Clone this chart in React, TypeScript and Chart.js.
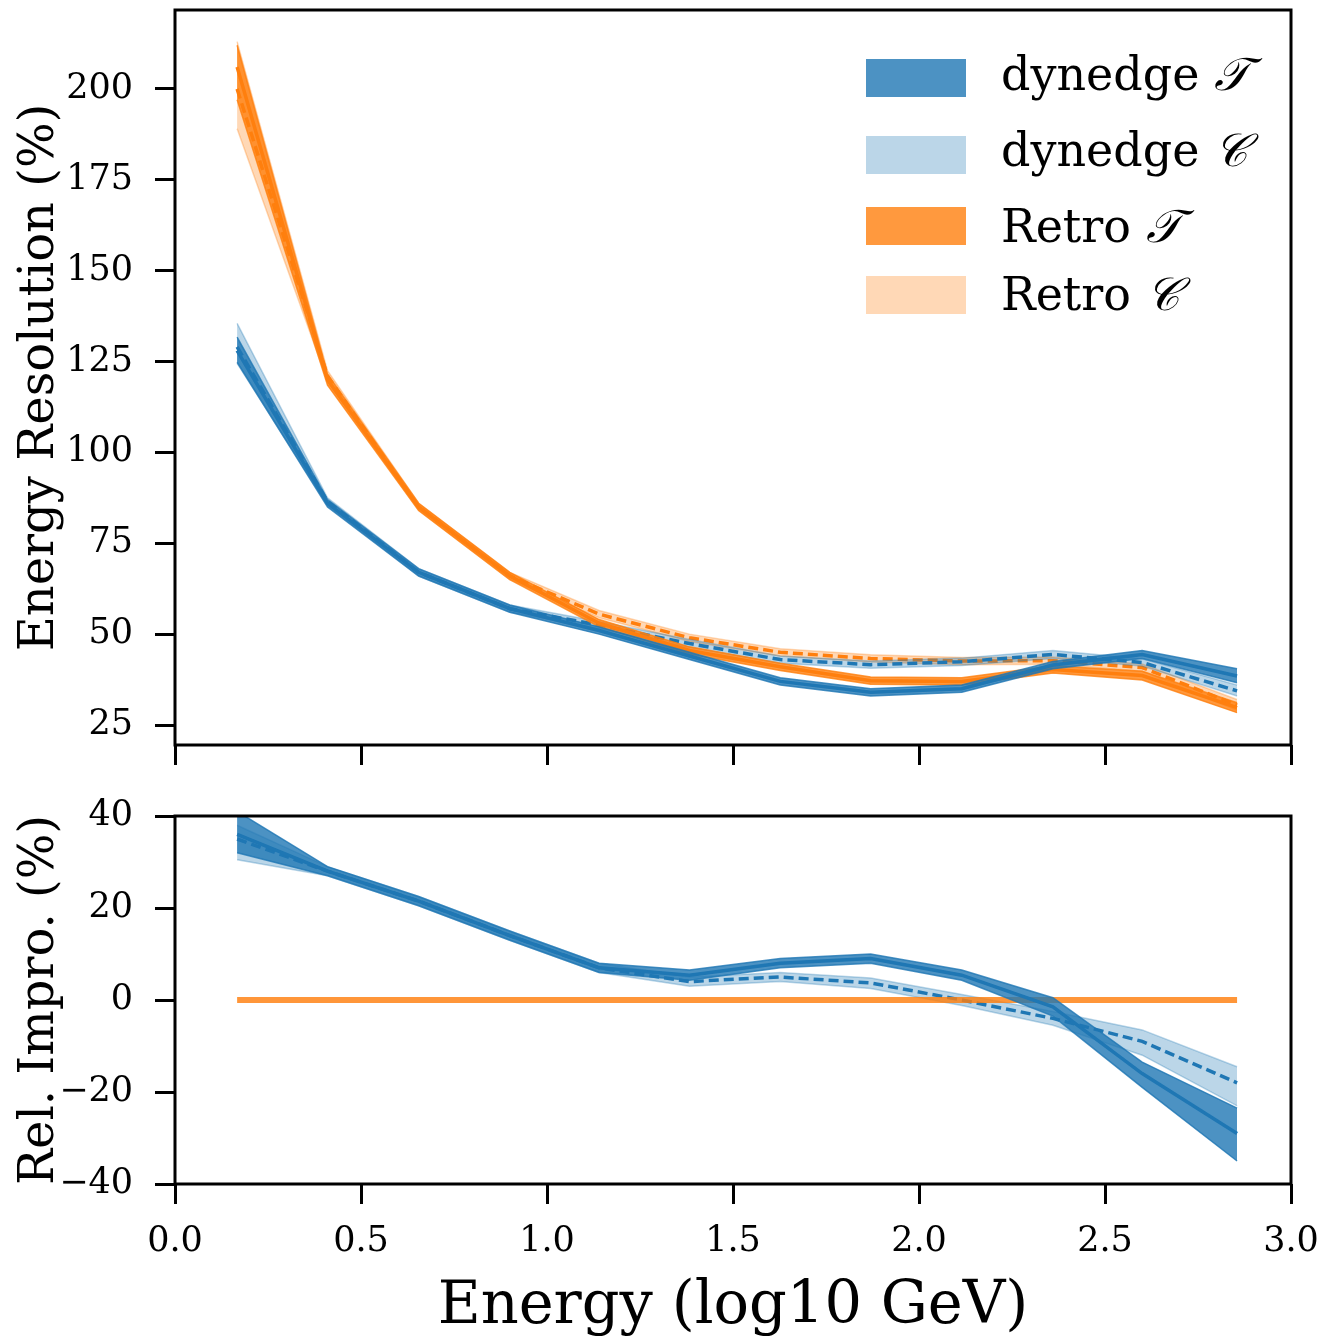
import React, { useEffect, useRef } from 'react';
import { Chart, registerables } from 'chart.js';
Chart.register(...registerables);

// ---------- data ----------
const energyBins = [0.167, 0.41, 0.655, 0.9, 1.14, 1.383, 1.627, 1.87, 2.115, 2.36, 2.6, 2.855];

// top panel: energy resolution (%)
const dynTMean = [128, 86, 67, 57, 51, 44, 37, 34, 35, 41.5, 44.4, 38.5];
const dynTLow = [124.8, 85, 66, 56, 50, 43, 36, 33, 34, 40.5, 43.3, 36.6];
const dynTHigh = [131.7, 87, 68, 58, 52, 45, 38, 35, 36, 42.5, 45.5, 40.5];

const dynCMean = [129, 86.5, 67, 57, 52.5, 47.4, 43, 41.6, 42.4, 44.4, 42.2, 34.4];
const dynCLow = [124.5, 85.5, 66, 56, 51.5, 46.3, 42, 40.6, 41.4, 43.3, 41.2, 33];
const dynCHigh = [135.5, 87.5, 68, 58, 53.5, 48.5, 44, 42.6, 43.4, 45.5, 43.2, 36];

const retroTMean = [206, 120, 85, 66, 53, 45.5, 41, 37.2, 37, 40.3, 38.6, 29.8];
const retroTLow = [197, 118.5, 84, 65, 52, 44.5, 40, 36.2, 36, 39.3, 37.4, 28.4];
const retroTHigh = [212, 121.5, 86, 67, 54, 46.5, 42, 38.2, 38, 41.3, 39.8, 31.1];

const retroCMean = [200, 121, 85, 66, 55.5, 49, 45, 43.3, 42.6, 42.7, 40.8, 30.5];
const retroCLow = [189, 119.5, 84, 65, 54.5, 48, 44, 42.3, 41.6, 41.7, 39.8, 29];
const retroCHigh = [213, 122.5, 86, 67, 56.5, 50, 46, 44.3, 43.6, 43.7, 41.8, 32];

// bottom panel: relative improvement (%)
const relTMean = [36, 28, 21.5, 14, 7, 5.4, 8, 9, 5.4, -1.5, -16, -29];
const relTLow = [32, 27, 20.5, 13, 6, 4.3, 7, 8, 4.3, -3.5, -19, -35];
const relTHigh = [41, 29, 22.5, 15, 8, 6.5, 9, 10, 6.5, 0.5, -13.5, -23.5];

const relCMean = [35, 28, 21.5, 14, 7, 4, 5, 3.7, 0, -4, -9, -18];
const relCLow = [30.5, 27, 20.5, 13, 6, 3, 4, 2.5, -1.2, -5.5, -12, -23];
const relCHigh = [38, 29, 22.5, 15, 8, 5, 6, 4.8, 1.2, -2.5, -6.5, -14.5];

const relRetro = [0, 0, 0, 0, 0, 0, 0, 0, 0, 0, 0, 0];

const xTicks = [0, 0.5, 1.0, 1.5, 2.0, 2.5, 3.0];
const topYTicks = [25, 50, 75, 100, 125, 150, 175, 200];
const bottomYTicks = [-40, -20, 0, 20, 40];

const legendNames = ['dynedge', 'dynedge', 'Retro', 'Retro'];
const legendSymbols = ['\u{1D4AF}', '\u{1D49E}', '\u{1D4AF}', '\u{1D49E}'];

// ---------- styling ----------
const FONT = "'DejaVu Serif', serif";
const BLUE = '#1f77b4';
const ORANGE = '#ff7f0e';
const BLUE_T = 'rgba(31,119,180,0.8)';
const BLUE_C = 'rgba(31,119,180,0.3)';
const ORANGE_T = 'rgba(255,127,14,0.8)';
const ORANGE_C = 'rgba(255,127,14,0.3)';
const legendColors = [BLUE_T, BLUE_C, ORANGE_T, ORANGE_C];

const pts = (ys: number[]) => ys.map((y, i) => ({ x: energyBins[i], y }));

function bandSets(hi: number[], lo: number[], mean: number[], color: string, band: string, dashed: boolean, baseOrder: number, lineWidth = 3.5) {
  return [
    {
      data: pts(hi), borderColor: band, borderWidth: 1.5, pointRadius: 0, fill: false, order: baseOrder + 2,
    },
    {
      data: pts(lo), borderColor: band, borderWidth: 1.5, pointRadius: 0, fill: '-1', backgroundColor: band, order: baseOrder + 1,
    },
    {
      data: pts(mean), borderColor: color, borderWidth: lineWidth, borderDash: dashed ? [10, 5] : [], pointRadius: 0, fill: false, order: baseOrder,
    },
  ];
}

const framePlugin = {
  id: 'frame',
  afterDraw(chart: any) {
    const { ctx, chartArea: a } = chart;
    ctx.save();
    ctx.strokeStyle = '#000';
    ctx.lineWidth = 3;
    ctx.strokeRect(a.left, a.top, a.right - a.left, a.bottom - a.top);
    ctx.restore();
  },
};

const legendPlugin = {
  id: 'customLegend',
  afterDraw(chart: any) {
    const { ctx, chartArea: a } = chart;
    const patchLeft = a.right - 425;
    const patchW = 100;
    const patchH = 38;
    const rowTops = [49, 126, 197, 266];
    const baselines = [80, 156, 232, 300];
    ctx.save();
    legendNames.forEach((name, i) => {
      ctx.fillStyle = legendColors[i];
      ctx.fillRect(patchLeft, a.top + rowTops[i], patchW, patchH);
      ctx.fillStyle = '#000';
      ctx.textBaseline = 'alphabetic';
      ctx.textAlign = 'left';
      ctx.font = `46px ${FONT}`;
      const tx = patchLeft + 135;
      ctx.fillText(name, tx, a.top + baselines[i]);
      const w = ctx.measureText(name + ' ').width;
      ctx.font = `italic 46px ${FONT}`;
      ctx.fillText(legendSymbols[i], tx + w, a.top + baselines[i]);
    });
    ctx.restore();
  },
};

const tickFont = { family: FONT, size: 35 };
const gridOpts = {
  display: true,
  drawOnChartArea: false,
  drawTicks: true,
  tickLength: 20,
  tickWidth: 3,
  tickColor: '#000',
};

const clearPad = (s: any) => {
  s.paddingTop = 0;
  s.paddingBottom = 0;
  s.paddingLeft = 0;
  s.paddingRight = 0;
};

export default function App() {
  const topRef = useRef<HTMLCanvasElement>(null);
  const botRef = useRef<HTMLCanvasElement>(null);

  useEffect(() => {
    const topChart = new Chart(topRef.current as HTMLCanvasElement, {
      type: 'line',
      data: {
        datasets: [
          ...bandSets(dynTHigh, dynTLow, dynTMean, BLUE, BLUE_T, false, 0),
          ...bandSets(retroTHigh, retroTLow, retroTMean, ORANGE, ORANGE_T, false, 3),
          ...bandSets(dynCHigh, dynCLow, dynCMean, BLUE, BLUE_C, true, 6),
          ...bandSets(retroCHigh, retroCLow, retroCMean, ORANGE, ORANGE_C, true, 9),
        ] as any,
      },
      options: {
        animation: false,
        responsive: false,
        devicePixelRatio: 1,
        layout: { padding: { left: 0, right: 37, top: 10, bottom: 0 } },
        plugins: { legend: { display: false }, tooltip: { enabled: false } },
        scales: {
          x: {
            type: 'linear',
            min: 0,
            max: 3,
            afterBuildTicks: (s: any) => { s.ticks = xTicks.map((v) => ({ value: v })); },
            afterFit: (s: any) => { s.height = 35; clearPad(s); },
            ticks: { callback: () => '', autoSkip: false, font: tickFont, color: '#000' },
            grid: gridOpts,
            border: { display: false },
          },
          y: {
            type: 'linear',
            min: 19.5,
            max: 221.7,
            afterBuildTicks: (s: any) => { s.ticks = topYTicks.map((v) => ({ value: v })); },
            afterFit: (s: any) => { s.width = 175; clearPad(s); },
            ticks: { autoSkip: false, font: tickFont, color: '#000', padding: 22, callback: (v: any) => String(v) },
            grid: gridOpts,
            border: { display: false },
            title: {
              display: true,
              text: 'Energy Resolution (%)',
              color: '#000',
              font: { family: FONT, size: 48 },
              padding: { top: 12, bottom: 0 },
            },
          },
        },
      } as any,
      plugins: [framePlugin, legendPlugin],
    });

    const botChart = new Chart(botRef.current as HTMLCanvasElement, {
      type: 'line',
      data: {
        datasets: [
          ...bandSets(relTHigh, relTLow, relTMean, BLUE, BLUE_T, false, 0),
          {
            data: pts(relRetro), borderColor: 'rgba(255,127,14,0.82)', borderWidth: 6, pointRadius: 0, fill: false, order: 3,
          },
          ...bandSets(relCHigh, relCLow, relCMean, BLUE, BLUE_C, true, 6),
        ] as any,
      },
      options: {
        animation: false,
        responsive: false,
        devicePixelRatio: 1,
        layout: { padding: { left: 0, right: 37, top: 36, bottom: 0 } },
        plugins: { legend: { display: false }, tooltip: { enabled: false } },
        scales: {
          x: {
            type: 'linear',
            min: 0,
            max: 3,
            afterBuildTicks: (s: any) => { s.ticks = xTicks.map((v) => ({ value: v })); },
            afterFit: (s: any) => { s.height = 159; clearPad(s); },
            ticks: {
              callback: (v: any) => Number(v).toFixed(1),
              autoSkip: false,
              maxRotation: 0,
              font: tickFont,
              color: '#000',
              padding: 17,
            },
            grid: gridOpts,
            border: { display: false },
            title: {
              display: true,
              text: 'Energy (log10 GeV)',
              color: '#000',
              font: { family: FONT, size: 59 },
              padding: { top: 0, bottom: 0 },
            },
          },
          y: {
            type: 'linear',
            min: -40,
            max: 40,
            afterBuildTicks: (s: any) => { s.ticks = bottomYTicks.map((v) => ({ value: v })); },
            afterFit: (s: any) => { s.width = 175; clearPad(s); },
            ticks: {
              autoSkip: false,
              font: tickFont,
              color: '#000',
              padding: 22,
              callback: (v: any) => (Number(v) < 0 ? '\u2212' + Math.abs(Number(v)) : String(v)),
            },
            grid: gridOpts,
            border: { display: false },
            title: {
              display: true,
              text: 'Rel. Impro. (%)',
              color: '#000',
              font: { family: FONT, size: 48 },
              padding: { top: 12, bottom: 0 },
            },
          },
        },
      } as any,
      plugins: [framePlugin],
    });

    return () => {
      topChart.destroy();
      botChart.destroy();
    };
  }, []);

  return (
    <div style={{ position: 'absolute', left: 0, top: 0, width: 1328, height: 1343, background: '#fff' }}>
      <canvas ref={topRef} width={1328} height={780} style={{ position: 'absolute', left: 0, top: 0, width: 1328, height: 780 }} />
      <canvas ref={botRef} width={1328} height={563} style={{ position: 'absolute', left: 0, top: 780, width: 1328, height: 563 }} />
    </div>
  );
}
